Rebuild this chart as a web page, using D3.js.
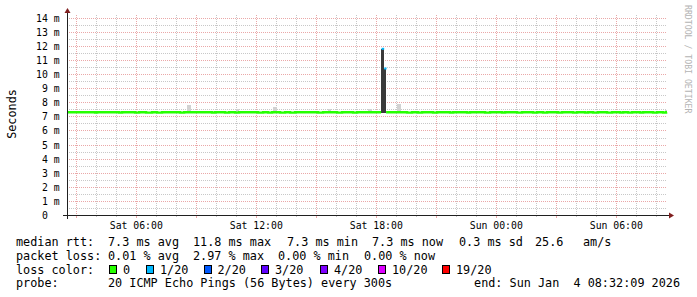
<!DOCTYPE html>
<html>
<head>
<meta charset="utf-8">
<script src="https://cdn.jsdelivr.net/npm/d3@7/dist/d3.min.js"></script>
<style>
  body { margin: 0; background: #fff; }
  svg { display: block; font-family: "DejaVu Sans Mono", monospace; }
  text { white-space: pre; }
</style>
</head>
<body>
<svg id="chart" width="697" height="297"></svg>
<script>
// ---------------- data (hours counted from Sat Jan 3 00:00, values in ms) ----------------
const baseMedian = 7.3;
const dipMedian = 7.27;
const dipStart = [3.94, 5.14, 5.94, 6.49, 7.04, 8.19, 9.79, 10.44, 10.94, 12.09, 12.59, 13.19, 13.69,
  15.09, 16.04, 16.84, 19.54, 20.09, 20.84, 21.69, 22.54, 23.44, 24.29, 25.04, 25.84, 26.34,
  27.09, 27.84, 28.44, 28.84, 29.54, 30.19, 30.59, 31.19, 31.84, 32.34];
const dipEnd = [4.04, 5.29, 6.14, 6.79, 7.29, 8.39, 9.94, 10.64, 11.14, 12.34, 12.79, 13.44, 13.94,
  15.34, 16.29, 17.04, 19.79, 20.29, 21.04, 21.84, 22.69, 23.69, 24.44, 25.29, 26.04, 26.54,
  27.29, 28.04, 28.59, 29.09, 29.79, 30.34, 30.79, 31.34, 32.04, 32.49];

// light smoke: single slow pings above the median
const smokeStart = [8.54, 10.99, 12.84, 15.59, 17.59, 19.04, 32.44];
const smokeEnd   = [8.74, 11.14, 13.04, 15.74, 17.79, 19.24, 32.54];
const smokeHigh  = [7.78, 7.55, 7.70, 7.50, 7.55, 7.85, 7.45];

// the spike around Sat 18:15 (1/20 loss)
const spikeStart  = [18.24, 18.37];
const spikeEnd    = [18.37, 18.49];
const spikeMedian = [11.8, 10.4];

const lossLabels = ["0", "1/20", "2/20", "3/20", "4/20", "10/20", "19/20"];
const lossColors = ["#26ff00", "#00b8ff", "#0059ff", "#5e00ff", "#7e00ff", "#dd00ff", "#ff0000"];

const rttStats  = ["7.3 ms avg", "11.8 ms max", "7.3 ms min", "7.3 ms now", "0.3 ms sd", "25.6", "am/s"];
const lossStats = ["0.01 % avg", "2.97 % max", "0.00 % min", "0.00 % now"];
const probeText = "20 ICMP Echo Pings (56 Bytes) every 300s";
const endText   = "end: Sun Jan  4 08:32:09 2026";

// ---------------- layout ----------------
const X0 = 67, XSIZE = 600, Y0 = 215, YSIZE = 200;
const Y_MAX = 14.2;
const START = new Date(2026, 0, 3, 2, 32, 9);
const END = new Date(2026, 0, 4, 8, 32, 9);
const DAY0 = new Date(2026, 0, 3, 0, 0, 0);
const rttStatX  = [108, 193, 287, 372, 459, 535, 583];
const lossStatX = [108, 193, 278, 364];
const boxX = [109, 146, 203.5, 261, 320, 378, 442];

const GRID = "#c8c8c8", MGRID = "#eaa8a8", AXIS = "#202020", ARROW = "#801f1f";

const hour = h => new Date(DAY0.getTime() + h * 3600e3);
const px = v => Math.round(v) + 0.5;

const svg = d3.select("#chart");

const x = d3.scaleTime().domain([START, END]).range([X0, X0 + XSIZE]);
const y = d3.scaleLinear().domain([0, Y_MAX]).range([Y0, Y0 - YSIZE]);

// ---------------- grid ----------------
const grid = svg.append("g").attr("shape-rendering", "crispEdges");

const yMinor = d3.range(1, 29).map(i => i * 0.5).filter(v => v % 1 !== 0);
const yMajor = d3.range(1, 15);
const hours = d3.timeHour.range(START, END);
const xMinor = hours.filter(d => d.getHours() % 3 !== 0);
const xMajor = hours.filter(d => d.getHours() % 3 === 0);

function hLines(vals, col) {
  grid.append("g").selectAll("line").data(vals).enter().append("line")
    .attr("x1", X0).attr("x2", X0 + XSIZE)
    .attr("y1", d => px(y(d))).attr("y2", d => px(y(d)))
    .attr("stroke", col).attr("stroke-dasharray", "1,1");
}
function vLines(vals, col, len) {
  grid.append("g").selectAll("line").data(vals).enter().append("line")
    .attr("x1", d => px(x(d))).attr("x2", d => px(x(d)))
    .attr("y1", Y0 - YSIZE).attr("y2", Y0)
    .attr("stroke", col).attr("stroke-dasharray", "1,1");
  grid.append("g").selectAll("path").data(vals).enter().append("path")
    .attr("d", d => `M${px(x(d))},${Y0}V${Y0 + len}`)
    .attr("stroke", col);
}
hLines(yMinor, GRID);
vLines(xMinor, GRID, 2);
hLines(yMajor, MGRID);
vLines(xMajor, MGRID, 3);

// ---------------- smoke ----------------
const smoke = svg.append("g").attr("shape-rendering", "crispEdges");
smoke.selectAll("rect.light").data(smokeStart).enter().append("rect")
  .attr("class", "light")
  .attr("x", (d, i) => x(hour(d)))
  .attr("width", (d, i) => x(hour(smokeEnd[i])) - x(hour(d)))
  .attr("y", (d, i) => y(smokeHigh[i]))
  .attr("height", (d, i) => y(baseMedian) - y(smokeHigh[i]))
  .attr("fill", "#d2d2d2");

smoke.selectAll("rect.dark").data(spikeStart).enter().append("rect")
  .attr("class", "dark")
  .attr("x", d => x(hour(d)))
  .attr("width", (d, i) => x(hour(spikeEnd[i])) - x(hour(d)))
  .attr("y", (d, i) => y(spikeMedian[i]))
  .attr("height", (d, i) => y(baseMedian - 0.05) - y(spikeMedian[i]))
  .attr("fill", "#3a3a3a");

// ---------------- median line ----------------
let pts = [{ t: START.getTime(), v: baseMedian }];
dipStart.forEach((s, i) => {
  pts.push({ t: hour(s).getTime(), v: dipMedian });
  pts.push({ t: hour(dipEnd[i]).getTime(), v: baseMedian });
});
pts.push({ t: hour(spikeStart[0]).getTime(), v: baseMedian });
pts.push({ t: hour(spikeStart[0]).getTime() + 1, v: NaN });
pts.push({ t: hour(spikeEnd[spikeEnd.length - 1]).getTime(), v: baseMedian });
pts.push({ t: END.getTime(), v: baseMedian });
pts.sort((a, b) => a.t - b.t);

const line = d3.line()
  .defined(d => !isNaN(d.v))
  .x(d => x(new Date(d.t)))
  .y(d => y(d.v))
  .curve(d3.curveStepAfter);

svg.append("path")
  .datum(pts)
  .attr("d", line)
  .attr("fill", "none")
  .attr("stroke", lossColors[0])
  .attr("stroke-width", 2.4);

svg.append("g").selectAll("line").data(spikeStart).enter().append("line")
  .attr("x1", d => x(hour(d)) + 0.5)
  .attr("x2", (d, i) => x(hour(spikeEnd[i])) + 0.5)
  .attr("y1", (d, i) => y(spikeMedian[i]))
  .attr("y2", (d, i) => y(spikeMedian[i]))
  .attr("stroke", lossColors[1])
  .attr("stroke-width", 2);

// ---------------- axes ----------------
const axes = svg.append("g").attr("shape-rendering", "crispEdges");
axes.append("line")
  .attr("x1", X0 - 4).attr("x2", X0 + XSIZE + 4)
  .attr("y1", Y0 + 0.5).attr("y2", Y0 + 0.5)
  .attr("stroke", AXIS);
axes.append("line")
  .attr("x1", X0 + 0.5).attr("x2", X0 + 0.5)
  .attr("y1", Y0 + 4).attr("y2", Y0 - YSIZE - 4)
  .attr("stroke", AXIS);
svg.append("path")
  .attr("d", `M${X0 + XSIZE + 2},${Y0 - 2.5}L${X0 + XSIZE + 2},${Y0 + 3.5}L${X0 + XSIZE + 7},${Y0 + 0.5}Z`)
  .attr("fill", ARROW);
svg.append("path")
  .attr("d", `M${X0 - 2.5},${Y0 - YSIZE - 2}L${X0 + 3.5},${Y0 - YSIZE - 2}L${X0 + 0.5},${Y0 - YSIZE - 7}Z`)
  .attr("fill", ARROW);

// tick labels
const labels = svg.append("g").attr("font-size", "9.8px").attr("fill", "#000");
labels.selectAll("text.y").data(d3.range(0, 15)).enter().append("text")
  .attr("class", "y")
  .attr("x", d => d === 0 ? 47.8 : 59.6)
  .attr("y", d => px(y(d)) + 3.2)
  .attr("text-anchor", "end")
  .text(d => d === 0 ? "0" : d + " m");

const fmt = d3.timeFormat("%a %H:%M");
labels.selectAll("text.x").data(hours.filter(d => d.getHours() % 6 === 0)).enter().append("text")
  .attr("class", "x")
  .attr("x", d => x(d))
  .attr("y", 228.5)
  .attr("text-anchor", "middle")
  .text(fmt);

svg.append("text")
  .attr("transform", "translate(15.5,114) rotate(-90)")
  .attr("text-anchor", "middle")
  .attr("font-size", "11.8px")
  .text("Seconds");

svg.append("text")
  .attr("transform", "translate(684.5,5) rotate(90)")
  .attr("font-size", "8.2px")
  .attr("fill", "#b4b4b4")
  .text("RRDTOOL / TOBI OETIKER");

// ---------------- legend ----------------
const leg = svg.append("g").attr("font-size", "11.8px").attr("fill", "#000");
const rowY = [245.5, 259.5, 273.5, 287];

leg.append("text").attr("x", 16).attr("y", rowY[0]).text("median rtt:");
leg.selectAll("text.rtt").data(rttStats).enter().append("text")
  .attr("class", "rtt")
  .attr("x", (d, i) => rttStatX[i]).attr("y", rowY[0]).text(d => d);

leg.append("text").attr("x", 16).attr("y", rowY[1]).text("packet loss:");
leg.selectAll("text.loss").data(lossStats).enter().append("text")
  .attr("class", "loss")
  .attr("x", (d, i) => lossStatX[i]).attr("y", rowY[1]).text(d => d);

leg.append("text").attr("x", 16).attr("y", rowY[2]).text("loss color:");
leg.selectAll("rect").data(lossColors).enter().append("rect")
  .attr("x", (d, i) => boxX[i] + 0.5).attr("y", 265.5)
  .attr("width", 7).attr("height", 8)
  .attr("fill", d => d)
  .attr("stroke", "#000")
  .attr("shape-rendering", "crispEdges");
leg.selectAll("text.lc").data(lossLabels).enter().append("text")
  .attr("class", "lc")
  .attr("x", (d, i) => boxX[i] + 14).attr("y", rowY[2]).text(d => d);

leg.append("text").attr("x", 16).attr("y", rowY[3]).text("probe:");
leg.append("text").attr("x", 108).attr("y", rowY[3]).text(probeText);
leg.append("text").attr("x", 680).attr("y", rowY[3]).attr("text-anchor", "end").text(endText);
</script>
</body>
</html>
